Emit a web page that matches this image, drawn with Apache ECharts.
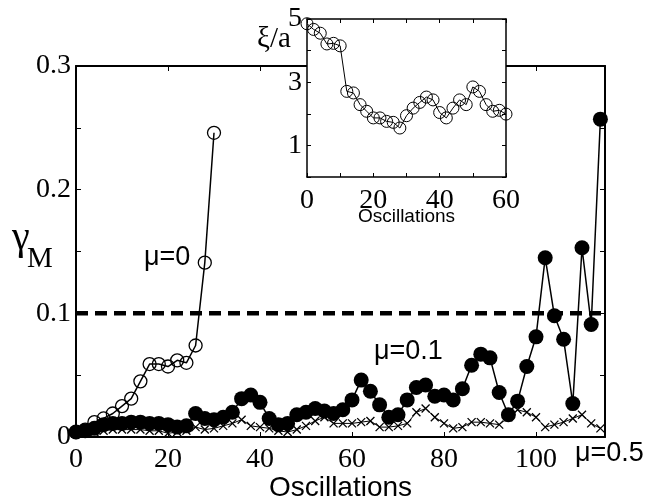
<!doctype html>
<html>
<head>
  <meta charset="utf-8">
  <script src="https://cdn.jsdelivr.net/npm/echarts@6/dist/echarts.min.js"></script>
  <style>
    html, body { margin: 0; padding: 0; background: #fff; }
  </style>
</head>
<body>
  <div id="main" style="width:665px;height:500px;"></div>
  <script>
  // main panel: gamma_M vs oscillations
  var oscMu0 = [0, 2, 4, 6, 8, 10, 12, 14, 16, 18, 20, 22, 24, 26, 28, 30];
  var gammaMu0 = [0.004, 0.006, 0.012, 0.015, 0.019, 0.025, 0.031, 0.045, 0.059, 0.059, 0.057, 0.062, 0.060, 0.074, 0.141, 0.246];

  var oscLong = [0, 2, 4, 6, 8, 10, 12, 14, 16, 18, 20, 22, 24, 26, 28, 30, 32, 34, 36, 38,
    40, 42, 44, 46, 48, 50, 52, 54, 56, 58, 60, 62, 64, 66, 68, 70, 72, 74, 76, 78,
    80, 82, 84, 86, 88, 90, 92, 94, 96, 98, 100, 102, 104, 106, 108, 110, 112, 114];
  var gammaMu01 = [0.004, 0.005, 0.007, 0.010, 0.011, 0.011, 0.012, 0.012, 0.011, 0.011,
    0.010, 0.008, 0.009, 0.019, 0.015, 0.014, 0.016, 0.020, 0.031, 0.034,
    0.028, 0.015, 0.010, 0.011, 0.018, 0.020, 0.023, 0.021, 0.019, 0.022,
    0.030, 0.046, 0.037, 0.026, 0.016, 0.018, 0.030, 0.040, 0.042, 0.033,
    0.034, 0.030, 0.039, 0.058, 0.067, 0.064, 0.036, 0.018, 0.029, 0.057,
    0.081, 0.145, 0.098, 0.079, 0.027, 0.153, 0.091, 0.257];
  var gammaMu05 = [0.003, 0.004, 0.004, 0.005, 0.006, 0.006, 0.006, 0.006, 0.005, 0.005,
    0.003, 0.004, 0.005, 0.008, 0.006, 0.007, 0.009, 0.011, 0.014, 0.009,
    0.008, 0.007, 0.005, 0.004, 0.006, 0.009, 0.013, 0.016, 0.011, 0.011,
    0.011, 0.012, 0.013, 0.008, 0.008, 0.009, 0.011, 0.020, 0.023, 0.016,
    0.011, 0.007, 0.008, 0.012, 0.012, 0.011, 0.010, 0.016, 0.022, 0.020,
    0.016, 0.008, 0.010, 0.012, 0.015, 0.018, 0.011, 0.007];

  var thresholdX = [0, 115];
  var thresholdY = [0.1, 0.1];

  // inset: xi/a vs oscillations
  var oscInset = [0, 2, 4, 6, 8, 10, 12, 14, 16, 18, 20, 22, 24, 26, 28, 30,
    32, 34, 36, 38, 40, 42, 44, 46, 48, 50, 52, 54, 56, 58, 60];
  var xiInset = [4.85, 4.67, 4.55, 4.21, 4.23, 4.15, 2.71, 2.66, 2.29, 2.08, 1.87, 1.87, 1.76, 1.73, 1.55, 1.94,
    2.18, 2.36, 2.53, 2.44, 2.04, 1.87, 2.18, 2.44, 2.29, 2.85, 2.71, 2.29, 2.08, 2.11, 1.99];

  function pairs(xs, ys) {
    var out = [];
    for (var i = 0; i < xs.length; i++) out.push([xs[i], ys[i]]);
    return out;
  }

  var serif = 'Liberation Serif';
  var sans = 'Liberation Sans';
  var crossPath = 'path://M0,0L10,10M10,0L0,10';

  function frameAxis(extra) {
    var base = {
      type: 'value',
      axisLine: { show: true, onZero: false, lineStyle: { color: '#000', width: 2 } },
      axisTick: { show: true, inside: true, length: 5, lineStyle: { color: '#000', width: 1 } },
      axisLabel: { show: false },
      splitLine: { show: false }
    };
    for (var k in extra) base[k] = extra[k];
    return base;
  }

  var insetLine = { show: true, onZero: false, lineStyle: { color: '#000', width: 1.5 } };
  var insetTick = { show: true, inside: true, length: 4, lineStyle: { color: '#000', width: 1 } };

  var option = {
    animation: false,
    backgroundColor: '#fff',
    grid: [
      { left: 76, top: 66, width: 529, height: 371, outerBoundsMode: 'none' },
      { left: 307, top: 19, width: 199, height: 158, outerBoundsMode: 'none',
        show: true, backgroundColor: '#fff', borderWidth: 0, z: 2 }
    ],
    xAxis: [
      frameAxis({
        gridIndex: 0, min: 0, max: 115, interval: 20,
        axisLabel: {
          show: true, margin: 9, color: '#000', fontFamily: serif, fontSize: 28,
          formatter: function (v) { return v % 20 === 0 ? String(v) : ''; }
        },
        name: 'Oscillations', nameLocation: 'middle', nameGap: 37, nameMoveOverlap: false,
        nameTextStyle: { color: '#000', fontFamily: sans, fontSize: 28 }
      }),
      frameAxis({ gridIndex: 0, position: 'top', min: 0, max: 115, interval: 20 }),
      frameAxis({
        gridIndex: 1, min: 0, max: 60, interval: 10, z: 3,
        axisLine: insetLine, axisTick: insetTick,
        axisLabel: {
          show: true, margin: 10, color: '#000', fontFamily: serif, fontSize: 28,
          formatter: function (v) { return v % 20 === 0 ? String(v) : ''; }
        },
        name: 'Oscillations', nameLocation: 'middle', nameGap: 30, nameMoveOverlap: false,
        nameTextStyle: { color: '#000', fontFamily: sans, fontSize: 19 }
      }),
      frameAxis({
        gridIndex: 1, position: 'top', min: 0, max: 60, interval: 10, z: 3,
        axisLine: insetLine, axisTick: insetTick
      })
    ],
    yAxis: [
      frameAxis({
        gridIndex: 0, min: 0, max: 0.3, interval: 0.05,
        axisLabel: {
          show: true, margin: 5, color: '#000', fontFamily: serif, fontSize: 28,
          formatter: function (v) {
            var r = Math.round(v * 100);
            return r % 10 === 0 ? String(r / 100) : '';
          }
        }
      }),
      frameAxis({ gridIndex: 0, position: 'right', min: 0, max: 0.3, interval: 0.05 }),
      frameAxis({
        gridIndex: 1, min: 0, max: 5, interval: 1, z: 3,
        axisLine: insetLine, axisTick: insetTick,
        axisLabel: {
          show: true, margin: 5, color: '#000', fontFamily: serif, fontSize: 28,
          formatter: function (v) { return v % 2 === 1 ? String(v) : ''; }
        }
      }),
      frameAxis({
        gridIndex: 1, position: 'right', min: 0, max: 5, interval: 1, z: 3,
        axisLine: insetLine, axisTick: insetTick
      })
    ],
    series: [
      {
        name: 'threshold', type: 'line', xAxisIndex: 0, yAxisIndex: 0,
        data: pairs(thresholdX, thresholdY), symbol: 'none',
        lineStyle: { color: '#000', width: 4.5, type: [12, 7] }
      },
      {
        name: 'mu=0.5', type: 'line', xAxisIndex: 0, yAxisIndex: 0,
        data: pairs(oscLong, gammaMu05),
        symbol: crossPath, symbolSize: 8,
        itemStyle: { color: 'none', borderColor: '#000', borderWidth: 1.3 },
        lineStyle: { color: '#000', width: 1 }
      },
      {
        name: 'mu=0.1', type: 'line', xAxisIndex: 0, yAxisIndex: 0,
        data: pairs(oscLong, gammaMu01),
        symbol: 'circle', symbolSize: 15,
        itemStyle: { color: '#000' },
        lineStyle: { color: '#000', width: 1.5 }
      },
      {
        name: 'mu=0', type: 'line', xAxisIndex: 0, yAxisIndex: 0,
        data: pairs(oscMu0, gammaMu0),
        symbol: 'circle', symbolSize: 13,
        itemStyle: { color: 'transparent', borderColor: '#000', borderWidth: 1.3 },
        lineStyle: { color: '#000', width: 1.5 }
      },
      {
        name: 'xi', type: 'line', xAxisIndex: 2, yAxisIndex: 2, z: 4,
        data: pairs(oscInset, xiInset),
        symbol: 'circle', symbolSize: 12,
        itemStyle: { color: 'transparent', borderColor: '#000', borderWidth: 1 },
        lineStyle: { color: '#000', width: 1 }
      }
    ],
    graphic: [
      { type: 'text', left: 12, top: 218, z: 10, style: { text: 'γ', font: '40px "Liberation Serif"', fill: '#000' } },
      { type: 'text', left: 27, top: 245, z: 10, style: { text: 'M', font: '29px "Liberation Serif"', fill: '#000' } },
      { type: 'text', left: 257, top: 25, z: 10, style: { text: 'ξ/a', font: '29px "Liberation Serif"', fill: '#000' } },
      { type: 'text', left: 144, top: 244, z: 10, style: { text: 'μ=0', font: '27px "Liberation Sans"', fill: '#000' } },
      { type: 'text', left: 374, top: 338, z: 10, style: { text: 'μ=0.1', font: '27px "Liberation Sans"', fill: '#000' } },
      { type: 'text', left: 575, top: 440, z: 10, style: { text: 'μ=0.5', font: '27px "Liberation Sans"', fill: '#000' } }
    ]
  };

  var myChart = echarts.init(document.getElementById('main'));
  myChart.setOption(option);
  </script>
</body>
</html>
